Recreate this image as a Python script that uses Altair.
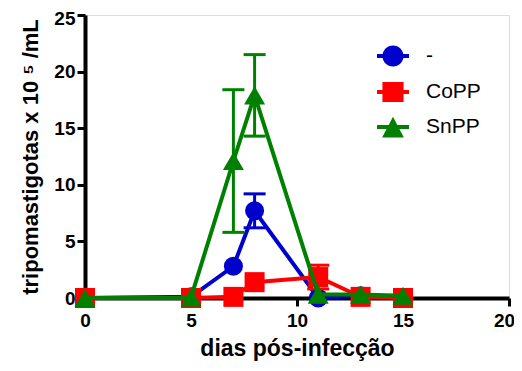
import altair as alt
import pandas as pd

# ---- data ----
days = [0, 5, 7, 8, 11, 13, 15]
series_names = ["-", "CoPP", "SnPP"]
ctrl_mean = [0.0, 0.1, 2.8, 7.7, 0.0, 0.2, 0.0]
ctrl_sem = [0.0, 0.0, 0.0, 1.5, 0.0, 0.0, 0.0]
copp_mean = [0.0, 0.0, 0.1, 1.4, 1.85, 0.1, 0.0]
copp_sem = [0.0, 0.0, 0.0, 0.0, 1.05, 0.0, 0.0]
snpp_mean = [0.0, 0.05, 12.1, 17.9, 0.3, 0.3, 0.2]
snpp_sem = [0.0, 0.0, 6.3, 3.6, 0.0, 0.0, 0.0]
x_ticks = [0, 5, 10, 15, 20]
y_ticks = [0, 5, 10, 15, 20, 25]

colors = ["#0000CC", "#FF0000", "#008000"]
shapes = ["circle", "square", "triangle-up"]
shape_sizes = [361, 400, 441]
legend_paths = [
    "M-1,-0.13L1,-0.13L1,0.13L-1,0.13Z M0.66,0 A0.66,0.66 0 1,1 -0.66,0 A0.66,0.66 0 1,1 0.66,0 Z",
    "M-1,-0.13L1,-0.13L1,0.13L-1,0.13Z M-0.66,-0.62L0.66,-0.62L0.66,0.62L-0.66,0.62Z",
    "M-1,-0.13L1,-0.13L1,0.13L-1,0.13Z M0,-0.64L0.68,0.66L-0.68,0.66Z",
]

rows = []
for name, means, sems in zip(series_names, [ctrl_mean, copp_mean, snpp_mean], [ctrl_sem, copp_sem, snpp_sem]):
    for d, m, s in zip(days, means, sems):
        rows.append({"series": name, "day": d, "value": m, "sem": s})
df = pd.DataFrame(rows)

FONT = "Liberation Sans"
xscale = alt.Scale(domain=[0, 20], nice=False, zero=False)
yscale = alt.Scale(domain=[0, 25], nice=False)

x_axis = alt.Axis(values=x_ticks, title="dias pós-infecção", grid=False, domainWidth=4,
                  domainColor="black", tickColor="black", tickWidth=3, tickSize=8,
                  labelFontSize=19, labelFontWeight="bold", labelColor="black", labelPadding=5,
                  labelOffset={"condition": {"test": "datum.value == 20", "value": -5}, "value": 0},
                  titleFontSize=23, titleFontWeight="bold", titleColor="black", titlePadding=7,
                  labelFlush=False, labelOverlap=False)
y_axis = alt.Axis(values=y_ticks, title="tripomastigotas x 10 ⁵ /mL", grid=False, domainWidth=4,
                  domainColor="black", tickColor="black", tickWidth=3, tickSize=8,
                  labelFontSize=19, labelFontWeight="bold", labelColor="black", labelPadding=2,
                  labelOffset={"condition": {"test": "datum.value == 25", "value": 3}, "value": 0},
                  titleFontSize=22, titleFontWeight="bold", titleColor="black", titlePadding=11,
                  labelFlush=False, labelOverlap=False)


def X():
    return alt.X("day:Q", scale=xscale, axis=x_axis)


def Y(field):
    return alt.Y(field, scale=yscale, axis=y_axis)


base = alt.Chart(df)
layers = []
for name, col, shp, sz in zip(series_names, colors, shapes, shape_sizes):
    b = base.transform_filter(alt.datum.series == name)
    err = b.transform_filter(alt.datum.sem > 0).transform_calculate(
        lo="datum.value - datum.sem", hi="datum.value + datum.sem")
    layers.append(err.mark_rule(color=col, strokeWidth=3).encode(x=X(), y=Y("lo:Q"), y2="hi:Q"))
    layers.append(err.mark_tick(color=col, orient="horizontal", size=22, thickness=3, opacity=1)
                  .encode(x=X(), y=Y("hi:Q")))
    layers.append(err.mark_tick(color=col, orient="horizontal", size=22, thickness=3, opacity=1)
                  .encode(x=X(), y=Y("lo:Q")))
    layers.append(b.mark_line(color=col, strokeWidth=4).encode(x=X(), y=Y("value:Q")))
    layers.append(b.mark_point(filled=True, shape=shp, size=sz, color=col, opacity=1, strokeWidth=0)
                  .encode(x=X(), y=Y("value:Q")))

leg = dict(title=None, orient="none", legendX=292, legendY=25, symbolSize=1024,
           labelFontSize=21, labelFont=FONT, labelColor="black", labelOffset=17,
           rowPadding=9, symbolStrokeWidth=0, padding=0)
legend_layer = base.transform_filter("false").mark_point(filled=True, opacity=1).encode(
    color=alt.Color("series:N", scale=alt.Scale(domain=series_names, range=colors),
                    legend=alt.Legend(**leg)),
    shape=alt.Shape("series:N", scale=alt.Scale(domain=series_names, range=legend_paths),
                    legend=alt.Legend(**leg)),
)
layers.append(legend_layer)

chart = alt.layer(*layers).properties(
    width=424, height=283,
    autosize=alt.AutoSizeParams(type="none"),
    padding={"left": 77, "top": 7, "right": 5, "bottom": 65},
).configure_view(stroke=None).configure(font=FONT)

chart.save("out.html", embed_options={"renderer": "svg", "actions": False})
